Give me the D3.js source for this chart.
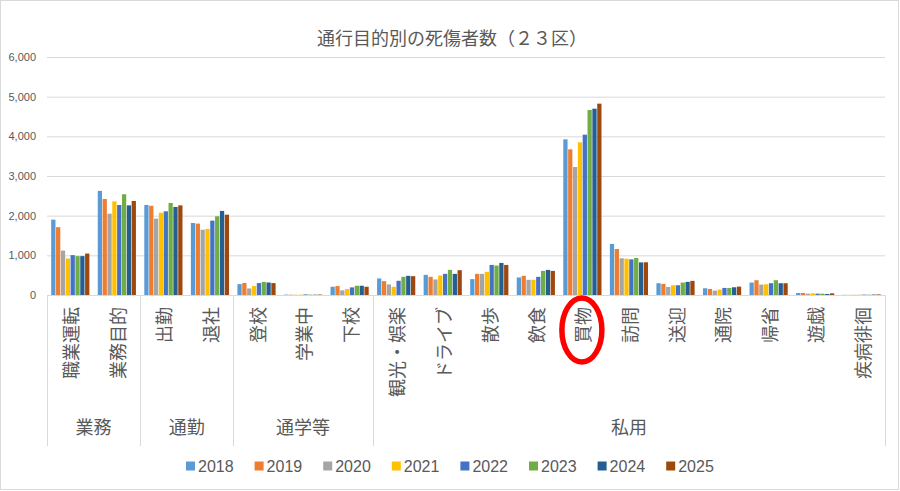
<!DOCTYPE html>
<html>
<head>
<meta charset="utf-8">
<script src="https://cdn.jsdelivr.net/npm/d3@7"></script>
<style>
  body { margin: 0; background: #fff; }
  svg { display: block; font-family: "Noto Sans CJK JP", "Noto Sans", sans-serif; }
</style>
</head>
<body>
<div id="chart"></div>
<script>
const years = ["2018", "2019", "2020", "2021", "2022", "2023", "2024", "2025"];
const colors = ["#5B9BD5", "#ED7D31", "#A5A5A5", "#FFC000", "#4472C4", "#70AD47", "#255E91", "#9E480E"];

const groups = [
  {name: "業務", cats: ["職業運転", "業務目的"]},
  {name: "通勤", cats: ["出勤", "退社"]},
  {name: "通学等", cats: ["登校", "学業中", "下校"]},
  {name: "私用", cats: ["観光・娯楽", "ドライブ", "散歩", "飲食", "買物", "訪問", "送迎", "通院", "帰省", "遊戯", "疾病徘徊"]}
];

// values per category, 2018..2025
const casualties = {
  "職業運転":   [1900, 1710, 1120, 920, 1005, 980, 980, 1045],
  "業務目的":   [2625, 2420, 2050, 2360, 2270, 2540, 2260, 2370],
  "出勤":       [2270, 2250, 1925, 2075, 2110, 2320, 2220, 2260],
  "退社":       [1815, 1800, 1645, 1665, 1875, 1985, 2120, 2025],
  "登校":       [275, 305, 165, 225, 300, 330, 315, 300],
  "学業中":     [10, 8, 6, 8, 15, 10, 8, 12],
  "下校":       [208, 225, 117, 150, 192, 233, 233, 208],
  "観光・娯楽": [417, 350, 267, 208, 358, 458, 483, 475],
  "ドライブ":   [508, 458, 392, 492, 533, 633, 533, 625],
  "散歩":       [400, 533, 533, 583, 758, 742, 808, 758],
  "飲食":       [442, 483, 383, 383, 458, 608, 633, 608],
  "買物":       [3924, 3672, 3227, 3849, 4042, 4664, 4697, 4824],
  "訪問":       [1288, 1160, 925, 915, 898, 932, 822, 825],
  "送迎":       [297, 280, 203, 246, 246, 314, 331, 356],
  "通院":       [170, 153, 110, 136, 178, 178, 195, 212],
  "帰省":       [314, 373, 263, 271, 297, 373, 297, 297],
  "遊戯":       [51, 51, 34, 42, 34, 34, 25, 42],
  "疾病徘徊":   [5, 3, 6, 8, 10, 8, 12, 15]
};

const yTicks = [0, 1000, 2000, 3000, 4000, 5000, 6000];
const highlight = "買物";

const W = 900, H = 491;
const plot = {left: 47, right: 885, top: 57, bottom: 295};
const gray = "#595959", lineGray = "#d9d9d9";

const categories = groups.flatMap(g => g.cats);

const svg = d3.select("#chart").append("svg")
  .attr("width", W)
  .attr("height", H);

svg.append("rect")
  .attr("x", 0.5).attr("y", 0.5)
  .attr("width", W - 2).attr("height", 489)
  .attr("fill", "#fff")
  .attr("stroke", lineGray);

const x = d3.scaleBand()
  .domain(categories)
  .range([plot.left, plot.right])
  .paddingInner(0.18)
  .paddingOuter(0.09);

const x1 = d3.scaleBand()
  .domain(years)
  .range([0, x.bandwidth()])
  .paddingInner(0.12);

const y = d3.scaleLinear()
  .domain([0, 6000])
  .range([plot.bottom, plot.top]);

const color = d3.scaleOrdinal().domain(years).range(colors);

// gridlines + y labels
const yAxis = svg.append("g")
  .attr("transform", "translate(" + plot.left + ",0)")
  .call(d3.axisLeft(y).tickValues(yTicks).tickSize(-(plot.right - plot.left)).tickPadding(11)
    .tickFormat(d3.format(",")));
yAxis.select(".domain").remove();
yAxis.selectAll(".tick line").attr("stroke", lineGray);
yAxis.selectAll(".tick text")
  .attr("fill", gray)
  .style("font-family", "'Liberation Sans', Arial, sans-serif")
  .style("font-size", "11px");

// title
svg.append("text")
  .attr("x", 452)
  .attr("y", 45)
  .attr("text-anchor", "middle")
  .attr("fill", gray)
  .style("font-size", "18px")
  .text("通行目的別の死傷者数（２３区）");

// bars
const catG = svg.selectAll(".cat")
  .data(categories)
  .enter()
  .append("g")
  .attr("class", "cat")
  .attr("transform", d => "translate(" + x(d) + ",0)");

catG.selectAll("rect")
  .data(d => casualties[d].map((v, i) => ({year: years[i], value: v})))
  .enter()
  .append("rect")
  .attr("x", d => x1(d.year))
  .attr("width", x1.bandwidth())
  .attr("y", d => y(d.value))
  .attr("height", d => y(0) - y(d.value))
  .attr("fill", d => color(d.year));

// category axis line
svg.append("line")
  .attr("x1", plot.left).attr("x2", plot.right)
  .attr("y1", plot.bottom + 0.5).attr("y2", plot.bottom + 0.5)
  .attr("stroke", lineGray);

// group separators
const boundary = c => x(c) - x.step() * x.paddingInner() / 2;
const edges = groups.map(g => boundary(g.cats[0])).concat([plot.right]);
svg.selectAll(".sep")
  .data(edges)
  .enter()
  .append("line")
  .attr("x1", d => Math.round(d) + 0.5).attr("x2", d => Math.round(d) + 0.5)
  .attr("y1", plot.bottom).attr("y2", 446)
  .attr("stroke", lineGray);

// category labels, rotated to read bottom-to-top, ending at the axis
svg.selectAll(".clabel")
  .data(categories)
  .enter()
  .append("text")
  .attr("class", "clabel")
  .attr("transform", d => "translate(" + (x(d) + x.bandwidth() / 2) + ",307) rotate(-90)")
  .attr("text-anchor", "end")
  .attr("dominant-baseline", "central")
  .attr("fill", gray)
  .style("font-size", "18px")
  .text(d => d);

// group labels
svg.selectAll(".glabel")
  .data(groups)
  .enter()
  .append("text")
  .attr("x", g => (boundary(g.cats[0]) + boundary(g.cats[g.cats.length - 1]) + x.step()) / 2)
  .attr("y", 434)
  .attr("text-anchor", "middle")
  .attr("fill", gray)
  .style("font-size", "18px")
  .text(g => g.name);

// red ring around the highlighted label
svg.append("ellipse")
  .attr("cx", x(highlight) + x.bandwidth() / 2 - 0.5)
  .attr("cy", 330)
  .attr("rx", 20)
  .attr("ry", 32)
  .attr("fill", "none")
  .attr("stroke", "#ff0000")
  .attr("stroke-width", 5.5);

// legend
const legend = svg.selectAll(".legend")
  .data(years)
  .enter()
  .append("g")
  .attr("class", "legend")
  .attr("transform", (d, i) => "translate(" + (186 + i * 68.6) + ",466)");

legend.append("rect")
  .attr("x", 0).attr("y", -4.5)
  .attr("width", 9).attr("height", 9)
  .attr("fill", d => color(d));

legend.append("text")
  .attr("x", 12)
  .attr("y", 5.5)
  .attr("fill", gray)
  .style("font-family", "'Liberation Sans', Arial, sans-serif")
  .style("font-size", "16px")
  .text(d => d);
</script>
</body>
</html>
